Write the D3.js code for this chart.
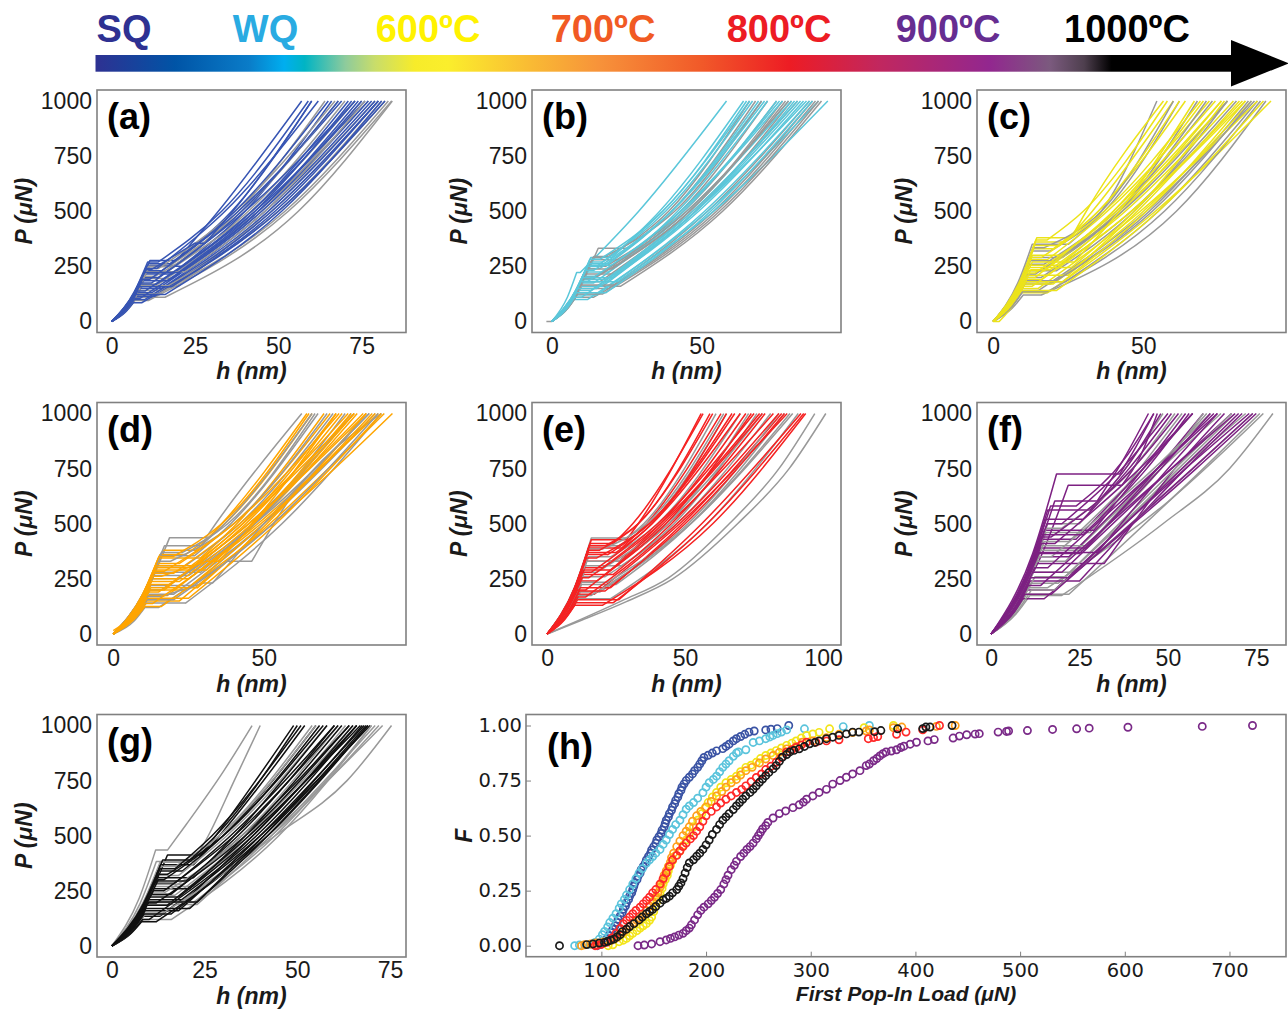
<!DOCTYPE html>
<html><head><meta charset="utf-8">
<script src="https://cdn.jsdelivr.net/npm/d3@7"></script>
<style>body{margin:0;background:#fff}svg{display:block}</style>
</head><body>
<svg id="c" width="1288" height="1009"></svg>
<script>
// ===================== DATA =====================
const conditions = ["SQ", "WQ", "600ºC", "700ºC", "800ºC", "900ºC", "1000ºC"];
const panelLetters = ["(a)", "(b)", "(c)", "(d)", "(e)", "(f)", "(g)", "(h)"];
const loadTicks = [0, 250, 500, 750, 1000];
const loadDomain = [-50, 1050];
const xTicksA = [0, 25, 50, 75];
const xTicksB = [0, 50];
const xTicksC = [0, 50];
const xTicksD = [0, 50];
const xTicksE = [0, 50, 100];
const xTicksF = [0, 25, 50, 75];
const xTicksG = [0, 25, 50, 75];
const xDomainA = [-4.4, 88.3];
const xDomainB = [-6.6, 96.5];
const xDomainC = [-5.4, 97.5];
const xDomainD = [-5.4, 97.2];
const xDomainE = [-5.5, 106.5];
const xDomainF = [-4.0, 83.4];
const xDomainG = [-4.0, 79.3];
const popInTicks = [100, 200, 300, 400, 500, 600, 700];
const popInDomain = [28, 754];
const fTicks = [0, 0.25, 0.5, 0.75, 1.0];
const fDomain = [-0.05, 1.05];

// P-h curves: [h (nm), P (uN)] points
const curvesSQ = [
 [[0,0],[7.2,138],[11.5,277],[19.5,277],[32,500],[57,1000]],
 [[0,0],[6.9,131],[11,262],[17.5,262],[36,500],[60,1000]],
 [[0,0],[6.6,125],[10.5,250],[21,250],[40,500],[66,1000]],
 [[0,0],[6.3,115],[10,230],[15,230],[38,500],[69,1000]],
 [[0,0],[6,108],[9.5,215],[18,215],[42,500],[71,1000]],
 [[0,0],[5.7,100],[9,200],[14,200],[40,500],[73,1000]],
 [[0,0],[5.7,92],[9,185],[17,185],[44,500],[74,1000]],
 [[0,0],[5.4,82],[8.5,165],[13,165],[43,500],[76,1000]],
 [[0,0],[5,75],[8,150],[15,150],[46,500],[78,1000]],
 [[0,0],[4.7,65],[7.5,130],[12,130],[45,500],[77,1000]],
 [[0,0],[4.4,58],[7,115],[13,115],[48,500],[80,1000]],
 [[0,0],[4.3,50],[6.8,100],[10,100],[47,500],[79,1000]],
 [[0,0],[4.1,42],[6.5,85],[9,85],[50,500],[82,1000]],
 [[0,0],[6.6,120],[10.5,240],[13.5,240],[34,500],[62,1000]],
 [[0,0],[5.5,88],[8.8,175],[12,175],[39,500],[68,1000]],
 [[0,0],[6.8,135],[10.8,270],[14,270],[33,500],[59,1000]],
 [[0,0],[6.2,110],[9.8,222],[20,222],[43,500],[72,1000]],
 [[0,0],[5.9,95],[9.3,192],[11.5,192],[37,500],[65,1000]],
 [[0,0],[5.2,78],[8.2,158],[18,158],[49,500],[80,1000]],
 [[0,0],[4.9,68],[7.8,138],[10,138],[42,500],[73,1000]],
 [[0,0],[4.6,60],[7.2,122],[16,122],[51,500],[81,1000]],
 [[0,0],[4.4,52],[7,105],[8.5,105],[44,500],[75,1000]],
 [[0,0],[6.5,118],[10.2,236],[12,236],[25,355],[28,355],[38,530],[60,1000]]
];
const graySQ = [
 [[0,0],[7.2,128],[11.5,255],[19,255],[38,500],[64,1000]],
 [[0,0],[6.6,110],[10.5,220],[16,220],[41,500],[70,1000]],
 [[0,0],[6.3,98],[10,195],[18,195],[45,500],[75,1000]],
 [[0,0],[6,85],[9.5,170],[14,170],[44,500],[77,1000]],
 [[0,0],[5.4,70],[8.5,140],[15,140],[48,500],[80,1000]],
 [[0,0],[5,60],[8,120],[12,120],[50,500],[82,1000]],
 [[0,0],[4.4,48],[7,95],[11,95],[53,500],[84,1000]],
 [[0,0],[6.9,120],[11,240],[14,240],[37,500],[67,1000]],
 [[0,0],[5.7,80],[9,160],[20,160],[47,500],[79,1000]],
 [[0,0],[4.7,55],[7.5,110],[16,110],[56,500],[84.2,1000]],
 [[0,0],[6.9,125],[11,248],[17,248],[39,500],[68,1000]],
 [[0,0],[6.2,102],[9.8,205],[13,205],[42,500],[73,1000]],
 [[0,0],[5.5,80],[8.8,162],[17,162],[50,500],[81,1000]],
 [[0,0],[4.9,62],[7.8,125],[14,125],[52,500],[83,1000]],
 [[0,0],[6.6,112],[10.5,226],[22,226],[46,500],[76,1000]]
];
const curvesWQ = [
 [[0,0],[5.2,110],[8.3,222],[9.5,222],[29,500],[58.3,1000]],
 [[0,0],[8.2,145],[13,290],[20,290],[36,500],[64,1000]],
 [[0,0],[7.9,135],[12.5,270],[17,270],[38,500],[67,1000]],
 [[0,0],[7.6,128],[12,255],[22,255],[42,500],[72,1000]],
 [[0,0],[7.2,120],[11.5,240],[16,240],[40,500],[70,1000]],
 [[0,0],[6.9,112],[11,225],[19,225],[44,500],[75,1000]],
 [[0,0],[6.6,102],[10.5,205],[15,205],[43,500],[76,1000]],
 [[0,0],[6.3,95],[10,190],[18,190],[46,500],[79,1000]],
 [[0,0],[6,88],[9.5,175],[14,175],[45,500],[80,1000]],
 [[0,0],[5.7,80],[9,160],[17,160],[48,500],[83,1000]],
 [[0,0],[5.4,70],[8.5,140],[13,140],[47,500],[82,1000]],
 [[0,0],[5,60],[8,120],[15,120],[51,500],[86,1000]],
 [[0,0],[4.7,50],[7.5,100],[12,100],[52,500],[89,1000]],
 [[0,0],[6,90],[9.5,180],[22,180],[54,500],[92.1,1000]],
 [[0,0],[7.6,125],[12,250],[15,250],[37,500],[66,1000]],
 [[0,0],[7.8,132],[12.3,262],[19,262],[40,500],[69,1000]],
 [[0,0],[7,115],[11.2,232],[14,232],[40,500],[71,1000]],
 [[0,0],[6.5,100],[10.2,198],[20,198],[48,500],[81,1000]],
 [[0,0],[6.1,92],[9.7,182],[12,182],[43,500],[77,1000]],
 [[0,0],[5.5,75],[8.7,150],[15,150],[49,500],[84,1000]],
 [[0,0],[5.2,65],[8.2,130],[18,130],[53,500],[87,1000]],
 [[0,0],[4.8,55],[7.6,110],[10,110],[48,500],[85,1000]],
 [[0,0],[8,142],[12.7,282],[16,282],[37,500],[65,1000]]
];
const grayWQ = [
 [[0,0],[9.8,166],[15.5,332],[25.5,332],[40,500],[68,1000]],
 [[0,0],[8.8,148],[14,295],[19,295],[39,500],[66,1000]],
 [[0,0],[8.5,140],[13.5,280],[23,280],[43,500],[72,1000]],
 [[0,0],[7.9,125],[12.5,250],[18,250],[44,500],[75,1000]],
 [[0,0],[7.2,108],[11.5,215],[21,215],[48,500],[80,1000]],
 [[0,0],[6.6,90],[10.5,180],[16,180],[47,500],[82,1000]],
 [[0,0],[6,75],[9.5,150],[19,150],[52,500],[86,1000]],
 [[0,0],[5,55],[8,110],[14,110],[55,500],[88,1000]],
 [[0,0],[6.3,80],[10,160],[23,160],[57,500],[90,1000]],
 [[-1.8,0],[0,0],[6.5,97],[10,195],[14,195],[46,500],[78,1000]],
 [[0,0],[8.6,145],[13.7,290],[17,290],[41,500],[70,1000]],
 [[0,0],[7.5,120],[12,238],[20,238],[46,500],[77,1000]],
 [[0,0],[6.9,100],[11,200],[14,200],[45,500],[79,1000]],
 [[0,0],[6.2,82],[9.8,165],[21,165],[54,500],[87,1000]],
 [[0,0],[5.5,62],[8.7,125],[17,125],[56,500],[89,1000]]
];
const curves600 = [
 [[0,0],[9.1,190],[14.5,380],[26,380],[31,500],[56.7,1000]],
 [[0,0],[8.8,180],[14,360],[24,360],[33,500],[60,1000]],
 [[0,0],[8.5,165],[13.5,330],[20,330],[35,500],[64,1000]],
 [[0,0],[8.2,150],[13,300],[24,300],[40,500],[70,1000]],
 [[0,0],[7.9,140],[12.5,280],[18,280],[38,500],[72,1000]],
 [[0,0],[7.6,128],[12,255],[22,255],[43,500],[76,1000]],
 [[0,0],[7.2,115],[11.5,230],[17,230],[42,500],[78,1000]],
 [[0,0],[6.9,105],[11,210],[25,210],[48,500],[82,1000]],
 [[0,0],[6.6,95],[10.5,190],[16,190],[46,500],[84,1000]],
 [[0,0],[6.3,85],[10,170],[20,170],[50,500],[86,1000]],
 [[0,0],[6,75],[9.5,150],[15,150],[49,500],[88,1000]],
 [[0,0],[5.7,65],[9,130],[18,130],[54,500],[92.5,1000]],
 [[0,0],[8.2,135],[13,270],[27,270],[42,500],[67,1000]],
 [[0,0],[2,0],[8.5,115],[12.5,235],[19,235],[44,500],[80,1000]],
 [[0,0],[6.9,100],[11,200],[14,200],[40,500],[74,1000]],
 [[0,0],[8.6,172],[13.7,345],[22,345],[35,500],[62,1000]],
 [[0,0],[8,145],[12.8,290],[16,290],[37,500],[69,1000]],
 [[0,0],[7.4,122],[11.8,245],[26,245],[47,500],[77,1000]],
 [[0,0],[7,110],[11.2,220],[14,220],[41,500],[76,1000]],
 [[0,0],[6.5,90],[10.3,180],[23,180],[51,500],[84,1000]],
 [[0,0],[6.1,80],[9.7,160],[13,160],[46,500],[83,1000]],
 [[0,0],[5.8,70],[9.2,140],[21,140],[55,500],[90,1000]],
 [[0,0],[9,185],[14.2,370],[18,370],[30,500],[58,1000]]
];
const gray600 = [
 [[0,0],[8.2,175],[13,350],[25,350],[36,500],[54.5,1000]],
 [[0,0],[8.2,160],[13,320],[19,320],[37,500],[62,1000]],
 [[0,0],[7.9,145],[12.5,290],[23,290],[42,500],[68,1000]],
 [[0,0],[7.6,130],[12,260],[17,260],[41,500],[73,1000]],
 [[0,0],[7.2,115],[11.5,230],[21,230],[47,500],[78,1000]],
 [[0,0],[6.9,100],[11,200],[16,200],[46,500],[81,1000]],
 [[0,0],[6.6,85],[10.5,170],[19,170],[52,500],[85,1000]],
 [[0,0],[6.3,70],[10,140],[15,140],[51,500],[87,1000]],
 [[0,0],[6.3,60],[10,120],[16,120],[61,500],[90.8,1000]],
 [[0,0],[6.9,90],[11,180],[24,180],[55,500],[88,1000]],
 [[0,0],[8.4,168],[13.3,335],[17,335],[36,500],[60,1000]],
 [[0,0],[7.8,138],[12.3,275],[20,275],[42,500],[71,1000]],
 [[0,0],[7,108],[11.2,215],[14,215],[43,500],[78,1000]],
 [[0,0],[6.6,90],[10.4,185],[21,185],[53,500],[86,1000]],
 [[0,0],[6.2,68],[9.8,135],[18,135],[57,500],[89,1000]]
];
const curves700 = [
 [[0,0],[10.4,190],[16.5,380],[27.5,380],[36,500],[64.3,1000]],
 [[0,0],[9.8,180],[15.5,360],[24,360],[37,500],[66,1000]],
 [[0,0],[9.5,172],[15,345],[29,345],[41,500],[70,1000]],
 [[0,0],[9.1,160],[14.5,320],[22,320],[40,500],[72,1000]],
 [[0,0],[8.8,150],[14,300],[27,300],[44,500],[76,1000]],
 [[0,0],[8.5,138],[13.5,275],[20,275],[42,500],[78,1000]],
 [[0,0],[8.2,125],[13,250],[25,250],[47,500],[81,1000]],
 [[0,0],[7.9,112],[12.5,225],[19,225],[45,500],[83,1000]],
 [[0,0],[7.6,100],[12,200],[24,200],[50,500],[86,1000]],
 [[0,0],[7.2,88],[11.5,175],[18,175],[48,500],[88,1000]],
 [[0,0],[6.9,75],[11,150],[22,150],[52,500],[90,1000]],
 [[0,0],[6.6,62],[10.5,125],[16,125],[53,500],[92.7,1000]],
 [[0,0],[8.8,145],[14,290],[31,290],[46,500],[74,1000]],
 [[0,0],[7.9,105],[12.5,210],[28,210],[51,500],[84,1000]],
 [[0,15],[4.5,60],[7.5,100],[12,200],[17,200],[43,500],[80,1000]],
 [[0,0],[9.6,176],[15.2,352],[20,352],[36,500],[65,1000]],
 [[0,0],[9,155],[14.3,310],[26,310],[43,500],[74,1000]],
 [[0,0],[8.6,143],[13.7,285],[17,285],[40,500],[75,1000]],
 [[0,0],[8,118],[12.7,238],[22,238],[46,500],[80,1000]],
 [[0,0],[7.5,95],[11.8,190],[15,190],[45,500],[84,1000]],
 [[0,0],[7,80],[11.2,162],[25,162],[54,500],[89,1000]],
 [[0,0],[6.7,68],[10.7,138],[13,138],[49,500],[87,1000]],
 [[0,0],[8.3,130],[13.2,262],[16,262],[31,330],[35,330],[50,550],[79,1000]]
];
const gray700 = [
 [[0,0],[11.8,218],[18.7,437],[30.8,437],[34,500],[62.6,1000]],
 [[0,0],[7,60],[10.5,120],[15,120],[38,330],[46,330],[58,600],[89,1000]],
 [[0,0],[9.8,178],[15.5,355],[27,355],[39,500],[68,1000]],
 [[0,0],[9.1,155],[14.5,310],[24,310],[42,500],[73,1000]],
 [[0,0],[8.8,140],[14,280],[29,280],[47,500],[77,1000]],
 [[0,0],[8.2,125],[13,250],[21,250],[45,500],[80,1000]],
 [[0,0],[7.9,110],[12.5,220],[26,220],[50,500],[84,1000]],
 [[0,0],[7.6,90],[12,180],[20,180],[50,500],[87,1000]],
 [[0,0],[6.9,70],[11,140],[24,140],[56,500],[89,1000]],
 [[0,0],[10.7,200],[17,400],[29,400],[37,500],[66,1000]],
 [[0,0],[7.2,85],[11.5,170],[16,170],[30,231],[33,231],[50,500],[85,1000]],
 [[0,0],[10,185],[16,370],[23,370],[38,500],[67,1000]],
 [[0,0],[9.3,165],[14.8,330],[19,330],[40,500],[71,1000]],
 [[0,0],[8.5,135],[13.5,265],[25,265],[47,500],[79,1000]],
 [[0,0],[7.8,100],[12.3,200],[16,200],[47,500],[85,1000]],
 [[0,0],[7.2,78],[11.3,155],[20,155],[53,500],[88,1000]]
];
const curves800 = [
 [[0,0],[10.1,213],[16,427],[28.7,427],[33,500],[55.8,1000]],
 [[0,0],[9.8,205],[15.5,410],[24,410],[31,500],[56.5,1000]],
 [[0,0],[9.5,195],[15,390],[27,390],[36,500],[63,1000]],
 [[0,0],[9.1,180],[14.5,360],[22,360],[37,500],[67,1000]],
 [[0,0],[8.8,165],[14,330],[26,330],[41,500],[72,1000]],
 [[0,0],[8.5,150],[13.5,300],[20,300],[40,500],[75,1000]],
 [[0,0],[8.2,135],[13,270],[24,270],[45,500],[79,1000]],
 [[0,0],[7.9,120],[12.5,240],[18,240],[44,500],[82,1000]],
 [[0,0],[7.6,105],[12,210],[23,210],[49,500],[85,1000]],
 [[0,0],[7.2,90],[11.5,180],[17,180],[48,500],[87,1000]],
 [[0,0],[6.9,78],[11,155],[26,155],[56,500],[92,1000]],
 [[0,0],[6.3,65],[10,130],[20,130],[60,500],[93.7,1000]],
 [[0,0],[7.9,140],[12.5,280],[16,280],[38,500],[70,1000]],
 [[0,0],[6.9,100],[11,200],[14,200],[42,500],[78,1000]],
 [[0,0],[9.5,190],[15,380],[19,380],[33,500],[60,1000]],
 [[0,0],[9.7,200],[15.3,400],[21,400],[33,500],[59,1000]],
 [[0,0],[9.3,185],[14.8,370],[25,370],[38,500],[65,1000]],
 [[0,0],[8.9,172],[14.2,345],[18,345],[37,500],[68,1000]],
 [[0,0],[8.4,145],[13.3,290],[23,290],[43,500],[74,1000]],
 [[0,0],[8,128],[12.7,255],[15,255],[41,500],[77,1000]],
 [[0,0],[7.4,98],[11.7,195],[21,195],[50,500],[86,1000]],
 [[0,0],[7,85],[11.2,168],[14,168],[47,500],[84,1000]],
 [[0,0],[6.6,72],[10.5,142],[24,142],[58,500],[93,1000]]
];
const gray800 = [
 [[0,0],[10.1,218],[16,435],[29,435],[35,500],[61.2,1000]],
 [[0,0],[9.8,200],[15.5,400],[26,400],[37,500],[65,1000]],
 [[0,0],[9.5,175],[15,350],[23,350],[40,500],[70,1000]],
 [[0,0],[8.8,155],[14,310],[27,310],[46,500],[76,1000]],
 [[0,0],[8.2,130],[13,260],[21,260],[47,500],[81,1000]],
 [[0,0],[7.9,112],[12.5,225],[25,225],[52,500],[86,1000]],
 [[0,0],[7.6,95],[12,190],[19,190],[52,500],[89,1000]],
 [[0,0],[6.9,80],[11,160],[23,160],[58,500],[91,1000]],
 [[0,0],[12,60],[28.7,147],[45.5,250],[69,500],[87.7,750],[101,1000]],
 [[0,0],[12,65],[27,150],[44,255],[66,500],[84,750],[97,1000]],
 [[0,0],[9.6,192],[15.2,385],[20,385],[36,500],[64,1000]],
 [[0,0],[9,165],[14.3,330],[26,330],[44,500],[73,1000]],
 [[0,0],[8.5,140],[13.5,280],[18,280],[43,500],[78,1000]],
 [[0,0],[7.8,118],[12.3,235],[22,235],[51,500],[84,1000]],
 [[0,0],[7.2,88],[11.5,175],[16,175],[52,500],[88,1000]]
];
const curves900 = [
 [[0,0],[11.7,363],[18.5,726],[36.4,726],[41,850],[46,1000]],
 [[0,0],[13.7,338],[21.8,675],[37,675],[42,800],[47,1000]],
 [[0,0],[11.3,302],[18,603],[30,603],[37,780],[44.5,1000]],
 [[0,0],[10.1,281],[16,562],[28,562],[38,750],[48,1000]],
 [[0,0],[9.8,260],[15.5,520],[26,520],[39,750],[51,1000]],
 [[0,0],[9.5,235],[15,470],[29,470],[43,750],[55,1000]],
 [[0,0],[9.1,215],[14.5,430],[24,430],[43,750],[57,1000]],
 [[0,0],[8.8,195],[14,390],[27,390],[47,750],[60,1000]],
 [[0,0],[8.2,175],[13,350],[22,350],[47,750],[63,1000]],
 [[0,0],[7.9,160],[12.5,320],[32,320],[52,750],[66,1000]],
 [[0,0],[7.2,140],[11.5,280],[20,280],[51,750],[68,1000]],
 [[0,0],[6.9,120],[11,240],[25,240],[55,750],[71,1000]],
 [[0,0],[6.3,100],[10,200],[18,200],[55,750],[73,1000]],
 [[0,0],[5.7,80],[9,160],[15,160],[58,750],[75,1000]],
 [[0,0],[8.8,220],[14,440],[17,440],[40,750],[53,1000]],
 [[0,0],[8.2,185],[13,370],[30,370],[50,750],[64,1000]],
 [[0,0],[10.6,290],[16.8,580],[24,580],[38,800],[46,1000]],
 [[0,0],[9.9,250],[15.8,500],[20,500],[37,750],[50,1000]],
 [[0,0],[9.3,225],[14.8,450],[26,450],[44,750],[56,1000]],
 [[0,0],[8.9,205],[14.2,410],[18,410],[42,750],[57,1000]],
 [[0,0],[8.5,185],[13.5,365],[25,365],[48,750],[62,1000]],
 [[0,0],[7.8,150],[12.3,300],[16,300],[47,750],[64,1000]],
 [[0,0],[7,128],[11.1,255],[22,255],[54,750],[70,1000]],
 [[0,0],[6.6,110],[10.5,220],[14,220],[51,750],[69,1000]],
 [[0,0],[6,90],[9.5,180],[17,180],[57,750],[74,1000]]
];
const gray900 = [
 [[0,0],[10.1,250],[16,500],[25,500],[38,750],[48.6,1000]],
 [[0,0],[9.8,230],[15.5,460],[28,460],[42,750],[54,1000]],
 [[0,0],[9.5,210],[15,420],[22,420],[43,750],[57,1000]],
 [[0,0],[8.8,190],[14,380],[26,380],[47,750],[61,1000]],
 [[0,0],[8.2,165],[13,330],[21,330],[48,750],[65,1000]],
 [[0,0],[7.6,140],[12,280],[24,280],[53,750],[69,1000]],
 [[0,0],[6.9,115],[11,230],[19,230],[54,750],[72,1000]],
 [[0,0],[6.3,90],[10,180],[22,180],[60,750],[76,1000]],
 [[0,0],[6.9,88],[11,175],[20,175],[48.6,500],[67.4,750],[79.7,1000]],
 [[0,0],[6.6,105],[10.5,210],[16,210],[50,600],[77,1000]],
 [[0,0],[9.8,240],[15.6,480],[20,480],[40,750],[52,1000]],
 [[0,0],[9.2,200],[14.6,400],[27,400],[48,750],[60,1000]],
 [[0,0],[8.5,175],[13.5,350],[17,350],[46,750],[62,1000]],
 [[0,0],[7.8,130],[12.4,260],[21,260],[52,750],[68,1000]],
 [[0,0],[7.2,100],[11.4,200],[18,200],[57,750],[74,1000]]
];
const curves1000 = [
 [[0,0],[9.5,206],[15,413],[24,413],[28,500],[49,1000]],
 [[0,0],[8.2,184],[13,368],[22,368],[29,500],[52,1000]],
 [[0,0],[7.9,170],[12.5,340],[19,340],[30,500],[55,1000]],
 [[0,0],[7.6,155],[12,310],[22,310],[33,500],[58,1000]],
 [[0,0],[7.2,142],[11.5,285],[17,285],[32,500],[60,1000]],
 [[0,0],[6.9,130],[11,260],[21,260],[36,500],[62,1000]],
 [[0,0],[6.6,118],[10.5,235],[16,235],[35,500],[64,1000]],
 [[0,0],[6.3,105],[10,210],[20,210],[38,500],[66,1000]],
 [[0,0],[6,92],[9.5,185],[15,185],[37,500],[67,1000]],
 [[0,0],[5.7,80],[9,160],[18,160],[40,500],[68,1000]],
 [[0,0],[5.4,68],[8.5,135],[13,135],[40,500],[69.6,1000]],
 [[0,0],[5,55],[8,110],[12,110],[42,500],[69,1000]],
 [[0,0],[7.9,150],[12.5,300],[14,300],[30,500],[57,1000]],
 [[0,0],[8.2,175],[13,350],[17,350],[27,500],[51,1000]],
 [[0,0],[6.3,100],[10,200],[23,200],[41,500],[67.5,1000]],
 [[0,0],[8.6,195],[13.7,390],[21,390],[28,500],[50,1000]],
 [[0,0],[8,165],[12.7,325],[15,325],[30,500],[56,1000]],
 [[0,0],[7.4,148],[11.8,295],[20,295],[34,500],[60,1000]],
 [[0,0],[7,125],[11.2,250],[14,250],[33,500],[61,1000]],
 [[0,0],[6.4,112],[10.2,222],[18,222],[38,500],[65,1000]],
 [[0,0],[6.1,98],[9.7,195],[12,195],[36,500],[64,1000]],
 [[0,0],[5.8,85],[9.2,170],[21,170],[42,500],[69,1000]],
 [[0,0],[5.5,72],[8.7,145],[16,145],[41,500],[68.5,1000]],
 [[0,0],[5.2,60],[8.3,120],[10,120],[39,500],[66,1000]]
];
const gray1000 = [
 [[0,0],[7.4,218],[11.8,435],[15,435],[20,550],[30,790],[37.8,1000]],
 [[0,0],[7.6,192],[12,383],[22,383],[26,500],[33,750],[40,1000]],
 [[0,0],[8.2,190],[13,380],[20,380],[29,500],[54,1000]],
 [[0,0],[7.6,160],[12,320],[18,320],[31,500],[58,1000]],
 [[0,0],[6.9,135],[11,270],[22,270],[37,500],[63,1000]],
 [[0,0],[6.6,115],[10.5,230],[17,230],[37,500],[66,1000]],
 [[0,0],[6,94],[9.5,188],[23,188],[43,500],[71,1000]],
 [[0,0],[5.7,75],[9,150],[14,150],[42,500],[73,1000]],
 [[0,0],[6.3,100],[10,200],[19,200],[44,500],[63.4,750],[75.4,1000]],
 [[0,0],[5.4,60],[8.5,120],[16,120],[45,500],[70,1000]],
 [[0,0],[8.4,180],[13.3,360],[17,360],[29,500],[55,1000]],
 [[0,0],[7.4,140],[11.7,280],[19,280],[35,500],[61,1000]],
 [[0,0],[6.8,120],[10.8,240],[14,240],[36,500],[65,1000]],
 [[0,0],[6.2,100],[9.8,198],[22,198],[44,500],[70,1000]],
 [[0,0],[5.6,70],[8.8,140],[13,140],[43,500],[72,1000]]
];

// Cumulative distribution of first pop-in load: [load (uN), F]
const ecdfSQ = [[96,0],[99,0.005],[101,0.01],[103,0.02],[105,0.03],[107,0.045],[109,0.06],[111,0.075],[113,0.09],[115,0.105],[116,0.12],[118,0.135],[120,0.15],[121,0.165],[123,0.18],[124,0.195],[126,0.21],[127,0.225],[129,0.24],[130,0.255],[131,0.27],[132,0.285],[134,0.3],[135,0.315],[137,0.33],[138,0.345],[140,0.36],[142,0.375],[143,0.39],[145,0.405],[147,0.42],[148,0.435],[150,0.45],[152,0.465],[153,0.48],[155,0.495],[157,0.51],[158,0.525],[160,0.54],[161,0.555],[162,0.57],[164,0.585],[165,0.6],[167,0.615],[168,0.63],[170,0.645],[171,0.66],[173,0.675],[174,0.69],[176,0.705],[177,0.72],[179,0.735],[181,0.75],[184,0.765],[187,0.78],[189,0.795],[192,0.81],[194,0.825],[196,0.84],[198,0.855],[202,0.865],[206,0.875],[210,0.885],[216,0.895],[219,0.905],[222,0.915],[226,0.93],[229,0.94],[233,0.95],[237,0.96],[241,0.97],[246,0.975],[257,0.98],[262,0.983],[268,0.986],[279,1.0]];
const ecdfWQ = [[74.5,0],[79,0.003],[89,0.006],[94,0.015],[98,0.03],[101,0.05],[103,0.065],[106,0.085],[108,0.105],[111,0.125],[114,0.145],[117,0.17],[119,0.19],[122,0.21],[124,0.23],[127,0.255],[130,0.28],[133,0.305],[136,0.33],[139,0.35],[143,0.375],[146,0.39],[149,0.405],[152,0.42],[156,0.437],[159,0.46],[162,0.48],[165,0.505],[168,0.528],[171,0.55],[175,0.57],[178,0.595],[181,0.62],[184,0.635],[188,0.65],[192,0.67],[197,0.695],[200,0.72],[203,0.74],[207,0.755],[210,0.77],[213,0.79],[216,0.81],[219,0.825],[222,0.84],[226,0.86],[229,0.875],[231,0.88],[238,0.89],[245,0.923],[251,0.93],[257,0.94],[261,0.948],[264,0.955],[268,0.963],[272,0.97],[277,0.98],[294,0.985],[331,0.995],[356,1.0]];
const ecdf600 = [[106.5,0],[111,0.004],[117,0.018],[121,0.025],[124,0.033],[127,0.045],[130,0.056],[134,0.068],[137,0.08],[140,0.09],[143,0.1],[146,0.115],[148,0.13],[150,0.155],[151,0.177],[153,0.2],[154,0.22],[156,0.24],[158,0.26],[159,0.28],[161,0.3],[163,0.32],[164,0.34],[166,0.365],[168,0.386],[171,0.41],[175,0.43],[178,0.455],[181,0.48],[184,0.51],[188,0.54],[192,0.57],[196,0.6],[199,0.625],[202,0.65],[206,0.675],[210,0.696],[214,0.72],[219,0.74],[224,0.755],[229,0.77],[233,0.79],[238,0.81],[243,0.82],[248,0.833],[252,0.85],[257,0.864],[262,0.875],[267,0.886],[272,0.898],[277,0.91],[282,0.92],[286,0.93],[291,0.943],[296,0.955],[302,0.962],[308,0.969],[318,0.985],[351,0.99],[379,1.0]];
const ecdf700 = [[81,0],[84,0.004],[90,0.008],[95,0.012],[102,0.017],[110,0.025],[114,0.035],[117,0.05],[121,0.062],[124,0.075],[127,0.09],[131,0.105],[134,0.115],[137,0.125],[140,0.14],[143,0.16],[146,0.18],[149,0.2],[152,0.22],[154,0.24],[156,0.265],[157,0.28],[159,0.3],[160,0.32],[162,0.34],[164,0.36],[166,0.38],[167,0.4],[169,0.42],[172,0.45],[175,0.475],[178,0.5],[181,0.52],[184,0.54],[187,0.565],[191,0.59],[195,0.61],[200,0.63],[205,0.655],[210,0.68],[215,0.7],[219,0.72],[224,0.74],[229,0.755],[233,0.775],[238,0.795],[244,0.81],[251,0.83],[257,0.848],[264,0.864],[270,0.878],[277,0.894],[286,0.905],[292,0.924],[302,0.93],[315,0.945],[327,0.96],[340,0.968],[353,0.975],[356,0.98],[379,0.99],[387,0.993],[420,0.996],[438,1.0]];
const ecdf800 = [[94,0],[96,0.002],[100,0.006],[105,0.015],[110,0.035],[114,0.056],[118,0.078],[121,0.1],[124,0.115],[127,0.13],[130,0.145],[133,0.16],[137,0.175],[140,0.19],[143,0.205],[146,0.22],[149,0.24],[152,0.255],[156,0.28],[159,0.305],[162,0.33],[165,0.36],[168,0.39],[172,0.41],[175,0.43],[178,0.45],[181,0.466],[185,0.485],[188,0.5],[191,0.52],[194,0.54],[197,0.565],[200,0.59],[205,0.61],[210,0.63],[214,0.648],[219,0.665],[224,0.68],[229,0.696],[234,0.71],[238,0.726],[243,0.745],[248,0.764],[253,0.78],[257,0.8],[262,0.815],[267,0.833],[272,0.855],[277,0.88],[282,0.89],[286,0.9],[291,0.912],[296,0.924],[305,0.925],[315,0.93],[327,0.935],[355,0.94],[360,0.945],[364,0.95],[382,0.96],[391,0.97],[407,0.98],[423,1.0]];
const ecdf900 = [[135,0],[141,0.003],[148,0.008],[156,0.018],[162,0.026],[166,0.033],[170,0.04],[174,0.048],[178,0.056],[181,0.068],[184,0.08],[186,0.095],[189,0.117],[192,0.14],[195,0.16],[198,0.175],[202,0.19],[205,0.205],[208,0.22],[211,0.237],[214,0.255],[217,0.28],[219,0.3],[221,0.32],[224,0.345],[227,0.365],[229,0.383],[233,0.405],[236,0.42],[239,0.437],[242,0.45],[245,0.466],[248,0.485],[250,0.5],[252,0.515],[254,0.53],[257,0.545],[259,0.56],[264,0.58],[270,0.6],[276,0.612],[283,0.627],[289,0.64],[293,0.652],[296,0.665],[302,0.68],[308,0.696],[315,0.71],[321,0.734],[328,0.75],[334,0.765],[340,0.78],[347,0.795],[353,0.818],[356,0.825],[360,0.84],[363,0.85],[366,0.862],[369,0.872],[372,0.88],[377,0.884],[382,0.89],[386,0.9],[389,0.906],[395,0.915],[401,0.924],[412,0.93],[418,0.936],[436,0.943],[442,0.952],[449,0.958],[457,0.961],[461,0.963],[479,0.97],[487,0.973],[489,0.975],[507,0.977],[531,0.982],[554,0.985],[566,0.988],[603,0.992],[674,0.996],[722,1.0]];
const ecdf1000 = [[60,0],[86,0.005],[92,0.008],[98,0.012],[103,0.015],[106,0.02],[109,0.025],[112,0.03],[115,0.04],[118,0.05],[120,0.064],[124,0.075],[127,0.087],[131,0.1],[136,0.117],[139,0.13],[143,0.145],[146,0.155],[149,0.165],[152,0.178],[156,0.193],[159,0.208],[162,0.215],[165,0.225],[168,0.24],[172,0.255],[174,0.27],[176,0.285],[178,0.305],[180,0.33],[182,0.355],[184,0.376],[188,0.39],[191,0.406],[194,0.42],[197,0.437],[200,0.458],[203,0.48],[206,0.505],[210,0.528],[213,0.55],[216,0.57],[219,0.585],[222,0.6],[226,0.618],[229,0.635],[232,0.65],[235,0.665],[238,0.68],[242,0.696],[245,0.71],[248,0.726],[251,0.742],[254,0.757],[257,0.772],[260,0.787],[264,0.803],[267,0.818],[270,0.837],[273,0.856],[277,0.868],[280,0.88],[284,0.887],[289,0.894],[294,0.905],[299,0.917],[304,0.923],[308,0.93],[315,0.94],[321,0.947],[327,0.955],[334,0.962],[340,0.97],[346,0.97],[361,0.972],[367,0.977],[383,0.985],[407,0.986],[410,0.993],[414,0.993],[435,1.0]];

// ===================== STYLE / LAYOUT =====================
const headerColors = ["#2e3192", "#29abe2", "#fff200", "#f15a24", "#ed1c24", "#662d91", "#000000"];
const headerCenters = [124, 265.5, 428, 603, 779, 948, 1127];
const lineColors = ["#3755b3", "#5bc7da", "#ece31a", "#ffa500", "#f52222", "#7d2182", "#111111"];
const markerColors = ["#3a53a4", "#5bc4dc", "#f3e51a", "#ff9f1a", "#ff2828", "#7a2a88", "#1a1a1a"];
const grayColor = "#999999";
const gradStops = [[0,"#2e3192"],[0.07,"#0054a6"],[0.135,"#0a7cc8"],[0.166,"#00aeef"],[0.184,"#00b4c4"],[0.22,"#8ecb9c"],[0.246,"#c9dd6a"],[0.281,"#f7ec2a"],[0.31,"#fbee2c"],[0.382,"#f9bb34"],[0.444,"#f7923a"],[0.532,"#f15a29"],[0.611,"#ed1c24"],[0.69,"#c1275f"],[0.787,"#92278f"],[0.84,"#7b5a7e"],[0.87,"#4e3f4e"],[0.894,"#000000"],[1,"#000000"]];
const FONT = "'Liberation Sans', Arial, Helvetica, sans-serif";
const colX = [97, 532, 977], rowY = [90, 402.5, 714.5], PW = 309, PH = 242.5;

const svg = d3.select("#c");

// ---------- header colour bar ----------
const defs = svg.append("defs");
const grad = defs.append("linearGradient").attr("id", "temp").attr("x1", "0%").attr("x2", "100%").attr("y1", "0%").attr("y2", "0%");
gradStops.forEach(s => grad.append("stop").attr("offset", s[0]).attr("stop-color", s[1]));
svg.append("rect").attr("x", 95.5).attr("y", 55).attr("width", 1136.5).attr("height", 16.7).attr("fill", "url(#temp)");
svg.append("path").attr("d", "M1231,40 L1289,63.3 L1231,86.5 Z").attr("fill", "#000");
svg.selectAll("text.hdr").data(conditions).join("text").attr("class", "hdr")
  .attr("x", (d, i) => headerCenters[i]).attr("y", 42)
  .attr("text-anchor", "middle").attr("font-family", FONT).attr("font-weight", "bold")
  .attr("font-size", 38).attr("fill", (d, i) => headerColors[i]).text(d => d);

// ---------- P-h panels ----------
const linePanels = [
  {c: curvesSQ, g: graySQ, xd: xDomainA, xt: xTicksA, col: 0, row: 0},
  {c: curvesWQ, g: grayWQ, xd: xDomainB, xt: xTicksB, col: 1, row: 0},
  {c: curves600, g: gray600, xd: xDomainC, xt: xTicksC, col: 2, row: 0},
  {c: curves700, g: gray700, xd: xDomainD, xt: xTicksD, col: 0, row: 1},
  {c: curves800, g: gray800, xd: xDomainE, xt: xTicksE, col: 1, row: 1},
  {c: curves900, g: gray900, xd: xDomainF, xt: xTicksF, col: 2, row: 1},
  {c: curves1000, g: gray1000, xd: xDomainG, xt: xTicksG, col: 0, row: 2}
];

function curvePath(pts, x, y) {
  const mono = d3.line().x(d => x(d[0])).y(d => y(d[1])).curve(d3.curveMonotoneX);
  let d = "", run = [pts[0]];
  const flush = () => {
    if (run.length > 1) { const s = mono(run); d += d ? s.replace(/^M/, "L") : s; }
    else if (!d) d = `M${x(run[0][0])},${y(run[0][1])}`;
  };
  for (let i = 1; i < pts.length; i++) {
    if (pts[i][1] === pts[i - 1][1]) {
      flush();
      d += `L${x(pts[i][0])},${y(pts[i][1])}`;
      run = [pts[i]];
    } else run.push(pts[i]);
  }
  flush();
  return d;
}

function styleAxis(ax, size, family) {
  ax.select(".domain").remove();
  ax.attr("font-family", family).attr("font-size", size);
  ax.selectAll("text").attr("fill", "#1a1a1a");
}

linePanels.forEach((p, k) => {
  const x0 = colX[p.col], y0 = rowY[p.row];
  const x = d3.scaleLinear().domain(p.xd).range([x0, x0 + PW]);
  const y = d3.scaleLinear().domain(loadDomain).range([y0 + PH, y0]);
  const g = svg.append("g");
  const n = Math.max(p.c.length, p.g.length);
  for (let i = 0; i < n; i++) {
    if (p.g[i]) g.append("path").attr("d", curvePath(p.g[i], x, y)).attr("fill", "none")
      .attr("stroke", grayColor).attr("stroke-width", 1.5).attr("stroke-linejoin", "round");
    if (p.c[i]) g.append("path").attr("d", curvePath(p.c[i], x, y)).attr("fill", "none")
      .attr("stroke", lineColors[k]).attr("stroke-width", 1.5).attr("stroke-linejoin", "round");
  }
  g.append("rect").attr("x", x0).attr("y", y0).attr("width", PW).attr("height", PH)
    .attr("fill", "none").attr("stroke", "#808080").attr("stroke-width", 1.6);
  const ax = g.append("g").attr("transform", `translate(0,${y0 + PH})`)
    .call(d3.axisBottom(x).tickValues(p.xt).tickSize(0).tickPadding(5).tickFormat(d3.format("d")));
  styleAxis(ax, 23, FONT);
  const ay = g.append("g").attr("transform", `translate(${x0},0)`)
    .call(d3.axisLeft(y).tickValues(loadTicks).tickSize(0).tickPadding(5).tickFormat(d3.format("d")));
  styleAxis(ay, 23, FONT);
  g.append("text").attr("x", x0 + PW / 2).attr("y", y0 + PH + 46.5).attr("text-anchor", "middle")
    .attr("font-family", FONT).attr("font-weight", "bold").attr("font-style", "italic")
    .attr("font-size", 23).attr("fill", "#1a1a1a").text("h (nm)");
  g.append("text").attr("transform", `translate(${x0 - 65},${y0 + PH / 2}) rotate(-90)`)
    .attr("text-anchor", "middle").attr("font-family", FONT).attr("font-weight", "bold")
    .attr("font-style", "italic").attr("font-size", 23).attr("fill", "#1a1a1a").text("P (μN)");
  g.append("text").attr("x", x0 + 10).attr("y", y0 + 39).attr("font-family", FONT)
    .attr("font-weight", "bold").attr("font-size", 36).attr("fill", "#000").text(panelLetters[k]);
});

// ---------- (h) cumulative distribution ----------
const ecdfs = [ecdfSQ, ecdfWQ, ecdf600, ecdf700, ecdf800, ecdf900, ecdf1000];
const hx0 = 526, hx1 = 1286, hy0 = 714.5, hy1 = 956.7;
const xh = d3.scaleLinear().domain(popInDomain).range([hx0, hx1]);
const yh = d3.scaleLinear().domain(fDomain).range([hy1, hy0]);
const gh = svg.append("g");
ecdfs.forEach((s, i) => {
  gh.append("g").selectAll("circle").data(s).join("circle")
    .attr("cx", d => xh(d[0])).attr("cy", d => yh(d[1])).attr("r", 3.6)
    .attr("fill", "none").attr("stroke", markerColors[i]).attr("stroke-width", 1.7);
});
gh.append("rect").attr("x", hx0).attr("y", hy0).attr("width", hx1 - hx0).attr("height", hy1 - hy0)
  .attr("fill", "none").attr("stroke", "#808080").attr("stroke-width", 1.6);
const hax = gh.append("g").attr("transform", `translate(0,${hy1})`)
  .call(d3.axisBottom(xh).tickValues(popInTicks).tickSize(-5).tickPadding(6).tickFormat(d3.format("d")));
styleAxis(hax, 19.5, "'DejaVu Sans', sans-serif");
hax.selectAll("line").attr("stroke", "#808080");
const hay = gh.append("g").attr("transform", `translate(${hx0},0)`)
  .call(d3.axisLeft(yh).tickValues(fTicks).tickSize(-5).tickPadding(4).tickFormat(d3.format(".2f")));
styleAxis(hay, 19.5, "'DejaVu Sans', sans-serif");
hay.selectAll("line").attr("stroke", "#808080");
gh.append("text").attr("x", (hx0 + hx1) / 2).attr("y", 1001).attr("text-anchor", "middle")
  .attr("font-family", FONT).attr("font-weight", "bold").attr("font-style", "italic")
  .attr("font-size", 21).attr("fill", "#1a1a1a").text("First Pop-In Load (μN)");
gh.append("text").attr("transform", `translate(${hx0 - 54},${(hy0 + hy1) / 2}) rotate(-90)`)
  .attr("text-anchor", "middle").attr("font-family", FONT).attr("font-weight", "bold")
  .attr("font-style", "italic").attr("font-size", 23).attr("fill", "#1a1a1a").text("F");
gh.append("text").attr("x", hx0 + 21).attr("y", hy0 + 44).attr("font-family", FONT)
  .attr("font-weight", "bold").attr("font-size", 36).attr("fill", "#000").text(panelLetters[7]);
</script>
</body></html>
